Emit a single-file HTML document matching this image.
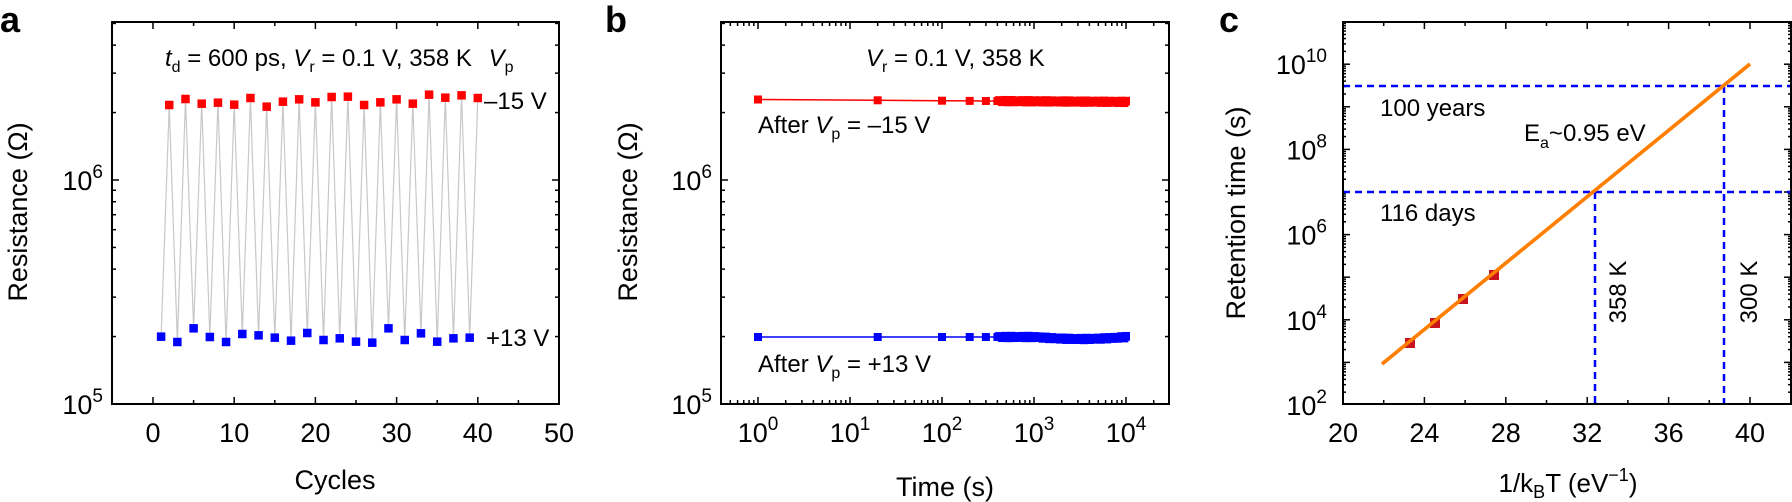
<!DOCTYPE html>
<html><head><meta charset="utf-8"><style>
html,body{margin:0;padding:0;background:#fff;}
svg{display:block;font-family:"Liberation Sans",Arial,sans-serif;}
</style></head><body>
<svg id="s" xmlns="http://www.w3.org/2000/svg" width="1792" height="502" viewBox="0 0 1792 502"></svg>
<script>
const S=document.getElementById('s');let h='';
function L(x1,y1,x2,y2,c,w,d){h+=`<line x1="${x1}" y1="${y1}" x2="${x2}" y2="${y2}" stroke="${c||'#000'}" stroke-width="${w||1.5}"${d?` stroke-dasharray="${d}"`:''}/>`;}
function T(x,y,s,fs,anc,extra){h+=`<text x="${x}" y="${y}" font-size="${fs||27}" text-anchor="${anc||'middle'}" ${extra||''}>${s}</text>`;}
function R(x,y,w,c){h+=`<rect x="${x-w/2}" y="${y-w/2}" width="${w}" height="${w}" fill="${c}"/>`;}
function pw(e){return `10<tspan dy="-12" font-size="19">${e}</tspan>`;}
const lg=Math.log10;
function box(l,r,t,b){h+=`<rect x="${l}" y="${t}" width="${r-l}" height="${b-t}" fill="none" stroke="#000" stroke-width="2"/>`;}
function xt(px,l,t,b){L(px,b,px,b-l);L(px,t,px,t+l);}
function yt(py,l,a,b){L(a,py,a+l,py);L(b,py,b-l,py);}
// ===== Panel a =====
T(0,32,'a',36,'start','font-weight="bold"');
const ax=v=>153+8.12*v, ay=v=>180-224*(lg(v)-6);
for(let v=0;v<=50;v+=5){xt(ax(v),v%10?4:7,22,404); if(v%10==0)T(ax(v),442,v);}
for(let d=5;d<=6;d++)for(let m=1;m<10;m++){const y=ay(m*10**d);if(y>=22&&y<=404)yt(y,m==1?7:4,112,559);}
h+=`<text x="103" y="190" font-size="27" text-anchor="end">${pw(6)}</text>`;
h+=`<text x="103" y="414" font-size="27" text-anchor="end">${pw(5)}</text>`;
T(0,0,'Resistance (Ω)',27,'middle','transform="translate(27,212) rotate(-90)"');
T(335,489,'Cycles',27);
const red=[315,297,311,308,314,294,320,305,298,307,291,290,315,307,298,311,284,293,286,294].map(v=>v/3);
const blu=[1010,1026,985,1011,1026,1002,1006,1013,1022,999,1020,1015,1025,1028,985,1020,1000,1025,1015,1013].map(v=>v/3);
let pts=[];for(let c=1;c<=40;c++){pts.push([ax(c),c%2?blu[(c-1)/2]:red[c/2-1]]);}
h+=`<polyline points="${pts.map(p=>p.join(',')).join(' ')}" fill="none" stroke="#c8c8c8" stroke-width="1.2"/>`;
pts.forEach((p,i)=>R(p[0],p[1],8.5,(i%2)?'#f00':'#00f'));
h+=`<text x="165" y="66" font-size="24"><tspan font-style="italic">t</tspan><tspan dy="6" font-size="16">d</tspan><tspan dy="-6"> = 600 ps, </tspan><tspan font-style="italic">V</tspan><tspan dy="6" font-size="16">r</tspan><tspan dy="-6"> = 0.1 V, 358 K  </tspan><tspan font-style="italic" dx="10">V</tspan><tspan dy="6" font-size="16">p</tspan></text>`;
T(484,109,'–15 V',24,'start');T(486,346,'+13 V',24,'start');
box(112,559,22,404);
// ===== Panel b =====
T(605,32,'b',36,'start','font-weight="bold"');
const bx=t=>758+92*lg(t);
for(let d=-1;d<=4;d++)for(let m=1;m<10;m++){const x=bx(m*10**d);if(x>722&&x<1168)xt(x,m==1?7:4,22,404);}
for(let d=0;d<=4;d++)h+=`<text x="${bx(10**d)}" y="442" font-size="27" text-anchor="middle">${pw(d)}</text>`;
for(let d=5;d<=6;d++)for(let m=1;m<10;m++){const y=ay(m*10**d);if(y>=22&&y<=404)yt(y,m==1?7:4,721,1169);}
h+=`<text x="712" y="190" font-size="27" text-anchor="end">${pw(6)}</text>`;
h+=`<text x="712" y="414" font-size="27" text-anchor="end">${pw(5)}</text>`;
T(0,0,'Resistance (Ω)',27,'middle','transform="translate(637,212) rotate(-90)"');
T(945,496,'Time (s)',27);
function series(base,col,amp){let ts=[1,20,100,200,300];for(let t=400;t<=10000;t*=1.04)ts.push(t);ts.push(10000);
 let p=ts.map((t,i)=>[bx(t),base(t)+(i>5?Math.sin(i*1.7)*amp:0)]);
 h+=`<polyline points="${p.map(q=>q.join(',')).join(' ')}" fill="none" stroke="${col}" stroke-width="1.5"/>`;
 p.forEach(q=>R(q[0],q[1],8,col));}
series(t=>99.5+lg(t)*0.6,'#f00',1.2);
series(t=>{const l=lg(t);return 337+(l>3?Math.sin((l-3)*3.1)*2:0)},'#00f',1.2);
h+=`<text x="866" y="66" font-size="24"><tspan font-style="italic">V</tspan><tspan dy="6" font-size="16">r</tspan><tspan dy="-6"> = 0.1 V, 358 K</tspan></text>`;
h+=`<text x="758" y="133" font-size="24">After <tspan font-style="italic">V</tspan><tspan dy="6" font-size="16">p</tspan><tspan dy="-6"> = –15 V</tspan></text>`;
h+=`<text x="758" y="372" font-size="24">After <tspan font-style="italic">V</tspan><tspan dy="6" font-size="16">p</tspan><tspan dy="-6"> = +13 V</tspan></text>`;
box(721,1169,22,404);
// ===== Panel c =====
T(1219,32,'c',36,'start','font-weight="bold"');
const cx=v=>1343+20.35*(v-20), cy=e=>405-42.6*(e-2);
for(let v=20;v<=42;v+=2){xt(cx(v),v%4?4:7,22,404);if(v%4==0&&v<=40)T(cx(v),442,v);}
for(let d=2;d<=10;d++)for(let m=1;m<10;m++){const y=cy(d+lg(m));if(y>=22&&y<=404)yt(y,m==1?7:3,1343,1791);}
for(let e=2;e<=10;e+=2)h+=`<text x="1327" y="${cy(e)+10}" font-size="27" text-anchor="end">${pw(e)}</text>`;
T(0,0,'Retention time (s)',27,'middle','transform="translate(1245,213) rotate(-90)"');
h+=`<text x="1568" y="492" font-size="26" text-anchor="middle">1/k<tspan dy="6" font-size="18">B</tspan><tspan dy="-6">T (eV</tspan><tspan dy="-11" font-size="18">−1</tspan><tspan dy="11">)</tspan></text>`;
L(1343,86,1791,86,'#0000ff',2.5,'7,5');L(1343,192,1791,192,'#0000ff',2.5,'7,5');
L(1595,192,1595,404,'#0000ff',2.5,'7,5');L(1724,86,1724,404,'#0000ff',2.5,'7,5');
L(1382,364,1750,64,'#ff7f00',3.5);
[[1410,343],[1435,323],[1463,299],[1494,275]].forEach(p=>R(p[0],p[1],10,'#c8141e'));
L(1382,364,1750,64,'#ff7f00',3.5);
T(1380,116,'100 years',24,'start');T(1380,221,'116 days',24,'start');
h+=`<text x="1524" y="141" font-size="24">E<tspan dy="7" font-size="16">a</tspan><tspan dy="-7">~0.95 eV</tspan></text>`;
T(0,0,'358 K',24,'middle','transform="translate(1626,292) rotate(-90)"');
T(0,0,'300 K',24,'middle','transform="translate(1757,292) rotate(-90)"');
box(1343,1791,22,404);
S.innerHTML=h;
</script>
</body></html>
